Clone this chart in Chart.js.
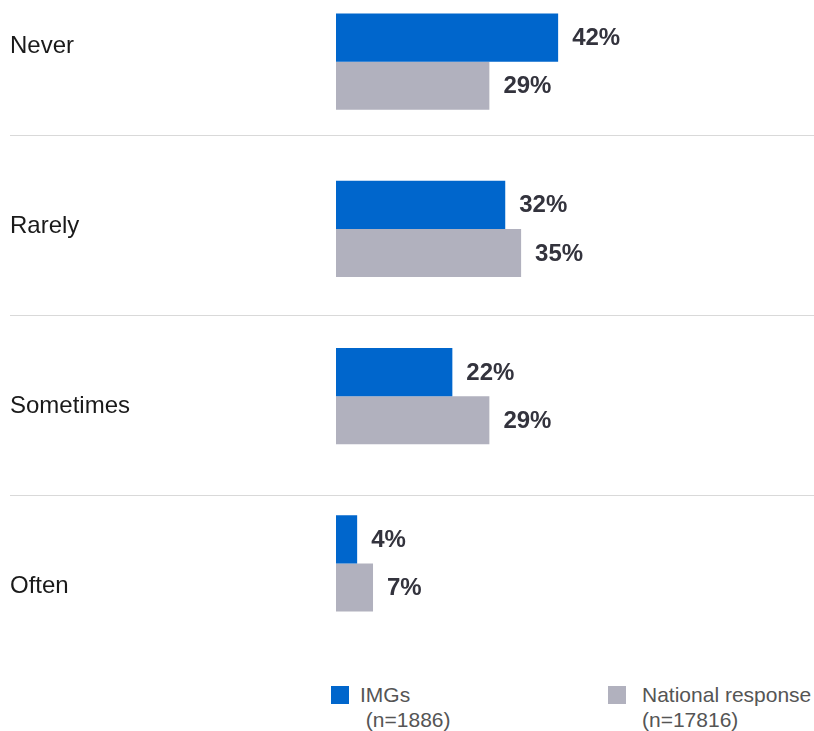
<!DOCTYPE html>
<html>
<head>
<meta charset="utf-8">
<script src="https://cdn.jsdelivr.net/npm/chart.js@4.4.0/dist/chart.umd.min.js"></script>
<style>
  html, body { margin: 0; padding: 0; background: #fff; overflow: hidden; }
  body { width: 814px; height: 731px; position: relative; font-family: "Liberation Sans", Arial, sans-serif; }
  #wrap { position: absolute; left: 0; top: -22px; width: 814px; height: 700px; }
  .leg { position: absolute; font-size: 21px; color: #555; line-height: 25px; white-space: nowrap; }
  .sw { position: absolute; width: 18px; height: 18px; }
</style>
</head>
<body>
<div id="wrap"><canvas id="chart"></canvas></div>

<div class="sw" style="left:331px; top:686px; background:#0066CC;"></div>
<div class="leg" style="left:360px; top:682px;">IMGs<br>&nbsp;(n=1886)</div>
<div class="sw" style="left:608px; top:686px; background:#B1B1BE;"></div>
<div class="leg" style="left:642px; top:682px;">National response<br>(n=17816)</div>

<script>
// Data
const categories = ["Never", "Rarely", "Sometimes", "Often"];
const imgs = [42, 32, 22, 4];
const national = [29, 35, 29, 7];
const seriesNames = ["IMGs (n=1886)", "National response (n=17816)"];

// row bands of the category labels and separators (page y)
const canvasTop = -22;
const bandTop = -45;
const bandHeight = 180;

const rowsPlugin = {
  id: "rows",
  beforeDatasetsDraw(chart) {
    const ctx = chart.ctx;
    ctx.save();
    ctx.strokeStyle = "#d9d9d9";
    ctx.lineWidth = 1;
    for (let i = 1; i < categories.length; i++) {
      const cy = Math.round(bandTop + bandHeight * i - canvasTop) + 0.5;
      ctx.beginPath();
      ctx.moveTo(10, cy);
      ctx.lineTo(chart.width, cy);
      ctx.stroke();
    }
    ctx.font = "24px 'Liberation Sans', Arial, sans-serif";
    ctx.fillStyle = "#1a1a1a";
    ctx.textAlign = "left";
    ctx.textBaseline = "middle";
    chart.data.labels.forEach((lab, i) => {
      const cy = bandTop + bandHeight * (i + 0.5) - canvasTop + 1;
      ctx.fillText(lab, 10, cy);
    });
    ctx.restore();
  },
};

// Value labels at the end of each bar
const valueLabels = {
  id: "valueLabels",
  afterDatasetsDraw(chart) {
    const ctx = chart.ctx;
    ctx.save();
    ctx.font = "bold 24px 'Liberation Sans', Arial, sans-serif";
    ctx.fillStyle = "#33333d";
    ctx.textAlign = "left";
    ctx.textBaseline = "middle";
    chart.data.datasets.forEach((ds, i) => {
      chart.getDatasetMeta(i).data.forEach((bar, j) => {
        ctx.fillText(ds.data[j] + "%", bar.x + 14, bar.y + 1);
      });
    });
    ctx.restore();
  },
};

new Chart(document.getElementById("chart").getContext("2d"), {
  type: "bar",
  data: {
    labels: categories,
    datasets: [
      {
        label: seriesNames[0],
        data: imgs,
        backgroundColor: "#0066CC",
        barPercentage: 1,
        categoryPercentage: 0.575,
      },
      {
        label: seriesNames[1],
        data: national,
        backgroundColor: "#B1B1BE",
        barPercentage: 1,
        categoryPercentage: 0.575,
      },
    ],
  },
  options: {
    indexAxis: "y",
    responsive: true,
    maintainAspectRatio: false,
    animation: false,
    layout: { padding: { left: 10, right: 2, top: 0, bottom: 31 } },
    plugins: {
      legend: { display: false },
      tooltip: { enabled: false },
    },
    scales: {
      x: {
        display: false,
        min: 0,
        max: 90,
      },
      y: {
        afterFit(scale) { scale.width = 326; },
        grid: { display: false },
        border: { display: false },
        ticks: { display: false },
      },
    },
  },
  plugins: [rowsPlugin, valueLabels],
});
</script>
</body>
</html>
